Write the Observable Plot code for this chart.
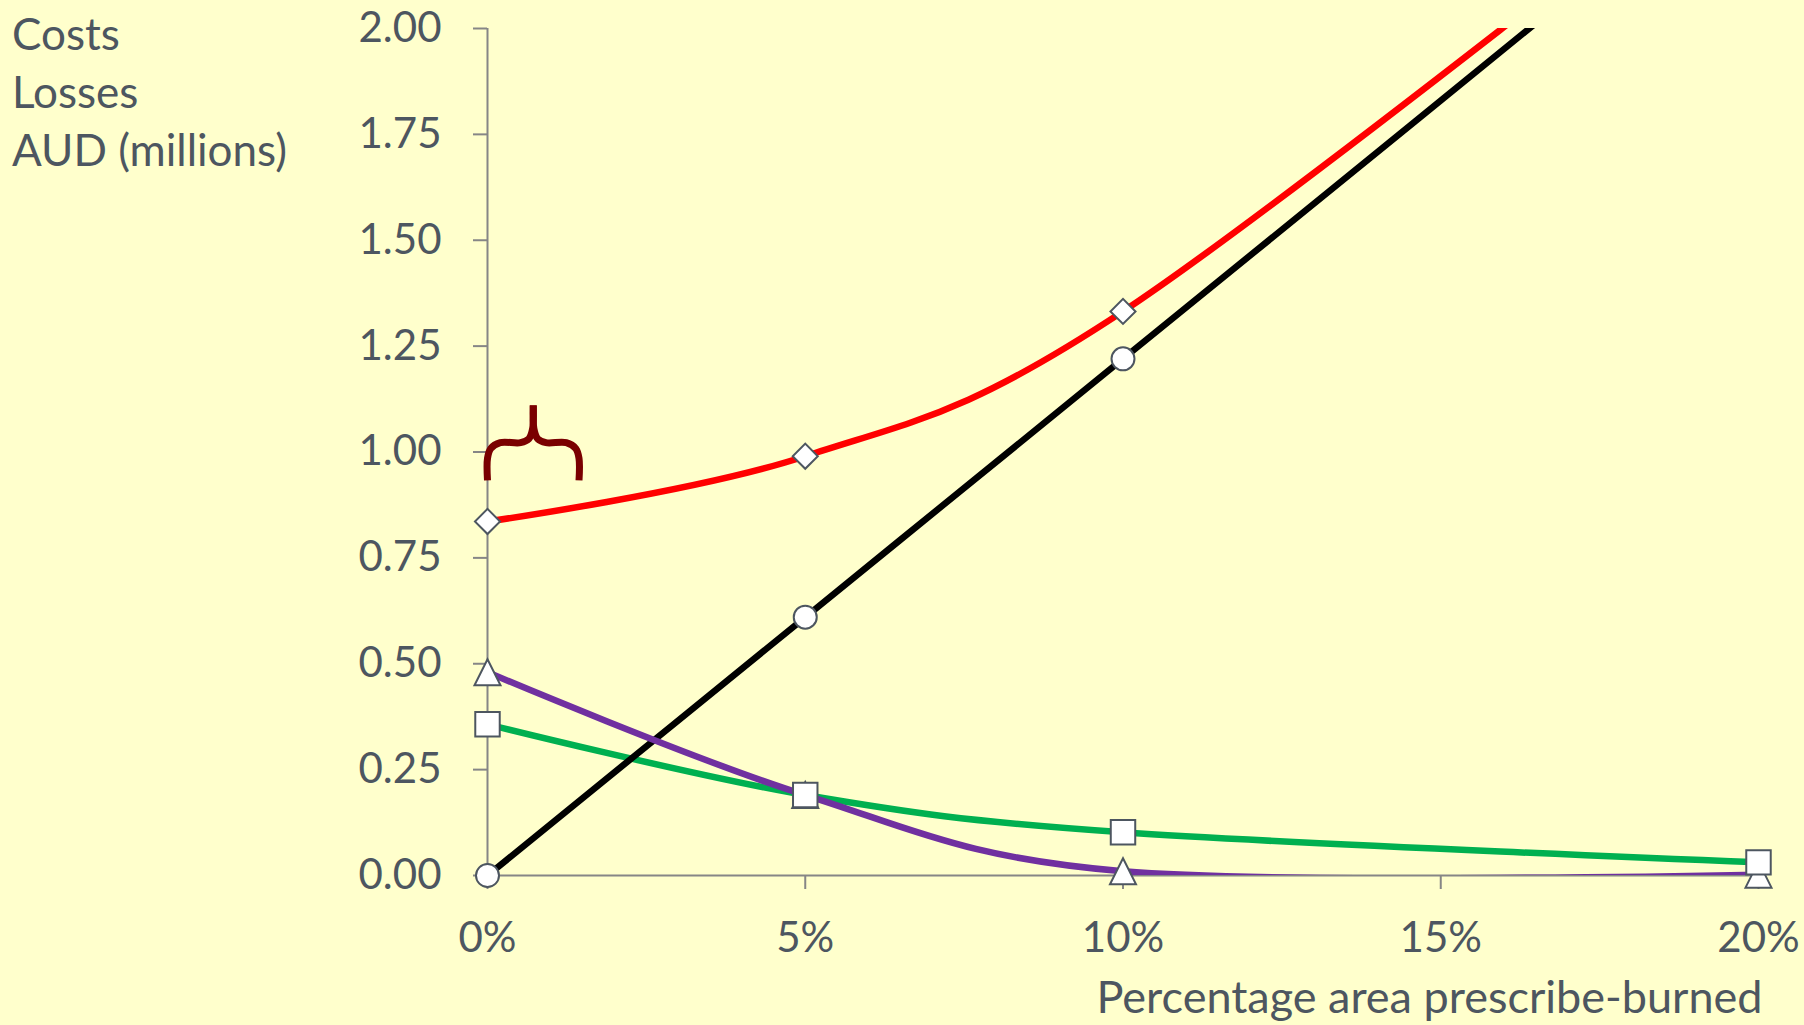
<!DOCTYPE html>
<html>
<head>
<meta charset="utf-8">
<script src="https://cdn.jsdelivr.net/npm/d3@7"></script>
<script src="https://cdn.jsdelivr.net/npm/@observablehq/plot@0.6"></script>
<style>
  html, body { margin: 0; padding: 0; background: #FFFFCC; }
  #wrap { position: relative; width: 1804px; height: 1025px; }
  #ytitle {
    position: absolute; left: 12px; top: 4px;
    font-family: Lato, "Open Sans", sans-serif; font-size: 44px; line-height: 58px;
    color: #4d5660;
  }
</style>
</head>
<body>
<div id="wrap">
  <div id="chart"></div>
  <div id="ytitle">Costs<br>Losses<br>AUD (millions)</div>
</div>
<script>
// Percentage of area prescribe-burned (x positions of the series points)
const pct = [0, 5, 10, 20];

// Series values, AUD millions
const burnCost   = [0, 0.61, 1.22, 2.44];       // black, circles
const totalCost  = [0.836, 0.99, 1.332, 2.476]; // red, diamonds
const lossGreen  = [0.357, 0.19, 0.102, 0.031]; // green, squares
const lossPurple = [0.48, 0.19, 0.01, 0.002];   // purple, triangles

// Tick values
const xTicks = [0, 5, 10, 15, 20];
const yTicks = [0, 0.25, 0.5, 0.75, 1, 1.25, 1.5, 1.75, 2];
const xTitle = "Percentage area prescribe-burned";

// Brace annotation above the 0% total, in data units (left half and right half meet at the tip)
const braceX = [0, 0, 0.05, 0.2, 0.52, 0.65, 0.71, 0.72];
const braceY = [0.933, 0.985, 1.008, 1.022, 1.022, 1.031, 1.055, 1.11];
const braceMid = 0.72;

const rows = (ys) => pct.map((p, i) => ({x: p, y: ys[i]}));
const inView = (d) => d.y <= 2;

const brace = [
  ...braceX.map((x, i) => ({x, y: braceY[i], side: "L"})),
  ...braceX.map((x, i) => ({x: 2 * braceMid - x, y: braceY[i], side: "R"}))
];

// Triangle marker as tall as it is wide, centred on its bounding box
const triangleBox = {
  draw(context, size) {
    const r = Math.sqrt(size / Math.PI);
    context.moveTo(0, -r);
    context.lineTo(r, r);
    context.lineTo(-r, r);
    context.closePath();
  }
};

const textColor = "#4d5660";
const axisColor = "#868686";
const markerStroke = "#4d5660";
const lineW = 6.5;

const chart = Plot.plot({
  width: 1804,
  height: 1025,
  marginLeft: 487,
  marginRight: 46,
  marginTop: 28,
  marginBottom: 150,
  style: {background: "transparent", fontFamily: "Lato, 'Open Sans', sans-serif", fontSize: "42px", color: textColor},
  x: {domain: [0, 20]},
  y: {domain: [0, 2]},
  marks: [
    Plot.axisY({ticks: yTicks, tickFormat: d3.format(".2f"), tickSize: 14, tickPadding: 32, stroke: axisColor, strokeWidth: 2, fill: textColor, label: null}),
    Plot.axisX({ticks: xTicks, tickFormat: (d) => d + "%", tickSize: 14, tickPadding: 33, stroke: axisColor, strokeWidth: 2, fill: textColor, label: null}),
    Plot.text([xTitle], {frameAnchor: "bottom-right", text: (d) => d, textAnchor: "end", lineAnchor: "middle", dx: 4, dy: 123, fontSize: 45, fill: textColor}),
    Plot.ruleX([0], {stroke: axisColor, strokeWidth: 2}),
    Plot.ruleY([0], {stroke: axisColor, strokeWidth: 2}),
    Plot.line(rows(lossGreen), {x: "x", y: "y", stroke: "#00B050", strokeWidth: lineW, curve: "cardinal", clip: true}),
    Plot.line(rows(burnCost), {x: "x", y: "y", stroke: "#000000", strokeWidth: lineW, curve: "cardinal", clip: true}),
    Plot.line(rows(lossPurple), {x: "x", y: "y", stroke: "#7030A0", strokeWidth: lineW, curve: "cardinal", clip: true}),
    Plot.line(rows(totalCost), {x: "x", y: "y", stroke: "#FF0000", strokeWidth: lineW, curve: "cardinal", clip: true}),
    Plot.line(brace, {x: "x", y: "y", z: "side", stroke: "#7A0000", strokeWidth: 7, curve: "catmull-rom", strokeLinecap: "butt", strokeLinejoin: "round"}),
    Plot.dot(rows(lossPurple).filter(inView), {x: "x", y: "y", symbol: triangleBox, r: 13, fill: "white", stroke: markerStroke, strokeWidth: 2}),
    Plot.dot(rows(lossGreen).filter(inView), {x: "x", y: "y", symbol: "square", r: 13.8, fill: "white", stroke: markerStroke, strokeWidth: 2}),
    Plot.dot(rows(burnCost).filter(inView), {x: "x", y: "y", symbol: "circle", r: 11.5, fill: "white", stroke: markerStroke, strokeWidth: 2}),
    Plot.dot(rows(totalCost).filter(inView), {x: "x", y: "y", symbol: "square", rotate: 45, r: 10, fill: "white", stroke: markerStroke, strokeWidth: 2})
  ]
});

document.getElementById("chart").append(chart);
</script>
</body>
</html>
